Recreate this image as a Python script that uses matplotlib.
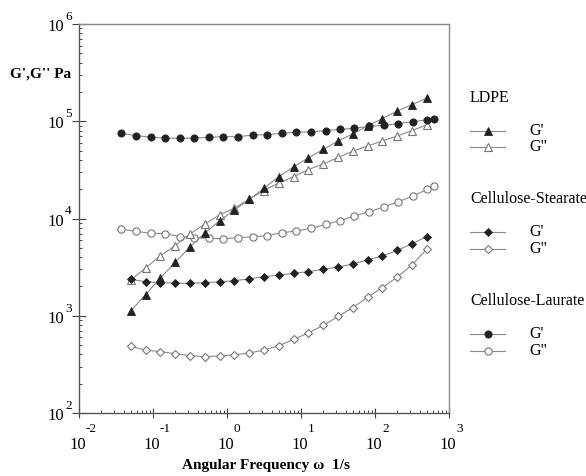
import numpy as np
import matplotlib
matplotlib.use('Agg')
import matplotlib.pyplot as plt
from matplotlib.ticker import LogLocator, NullFormatter

plt.rcParams['font.family'] = ['Liberation Serif', 'DejaVu Serif']

# Частоты (1/s)
freq = [0.05, 0.0794, 0.126, 0.2, 0.316, 0.5, 0.794, 1.26, 2.0, 3.16, 5.0,
        7.94, 12.6, 20.0, 31.6, 50.0, 79.4, 126, 200, 316, 500]
freq_laurate = [0.0373, 0.0589, 0.0931, 0.147, 0.232, 0.361, 0.566, 0.891,
                1.42, 2.22, 3.47, 5.49, 8.56, 13.6, 21.6, 33.7, 52.5, 83.0,
                131, 207, 327, 509, 632]

# LDPE
ldpe_g1 = [1120, 1650, 2450, 3550, 5100, 7050, 9500, 12200, 15700, 20400,
           26900, 33900, 42100, 51300, 62700, 74000, 89400, 106700, 127400,
           147900, 173300]
ldpe_g2 = [2330, 3100, 4130, 5270, 6930, 8780, 10900, 12800, 15800, 19400,
           23200, 26900, 31900, 36300, 42400, 49200, 55600, 62900, 70500,
           80300, 91500]

# Cellulose-Stearate
stear_g1 = [2370, 2240, 2190, 2160, 2160, 2190, 2240, 2290, 2400, 2520,
            2620, 2730, 2840, 3000, 3170, 3400, 3750, 4120, 4690, 5510, 6500]
stear_g2 = [483, 444, 427, 407, 390, 379, 387, 397, 414, 444, 492, 570, 668,
            794, 983, 1210, 1550, 1950, 2500, 3330, 4830]

# Cellulose-Laurate
laur_g1 = [75200, 71000, 68800, 66800, 66800, 66800, 68400, 69400, 69400,
           72200, 72800, 75200, 76900, 78100, 80000, 82600, 84600, 88700,
           90800, 94400, 98900, 103700, 105400]
laur_g2 = [7740, 7380, 7040, 7000, 6500, 6350, 6260, 6200, 6350, 6500, 6650,
           7150, 7430, 7920, 8710, 9490, 10600, 11750, 13130, 14890, 17030,
           19950, 21580]

dark = '#222222'
grey = '#777777'
line_c = '#8a8a8a'

filled = dict(color=line_c, lw=0.8, markerfacecolor=dark, markeredgecolor=dark,
              markeredgewidth=0.6)
hollow = dict(color=line_c, lw=0.8, markerfacecolor='white',
              markeredgecolor=grey, markeredgewidth=0.8)

fig = plt.figure(figsize=(5.86, 4.76), dpi=100)
ax = fig.add_axes([79 / 586, 1 - 413 / 476, 370 / 586, 389 / 476])

ax.plot(freq_laurate, laur_g2, marker='o', ms=5.2, **hollow)
ax.plot(freq, stear_g2, marker='D', ms=4.2, **hollow)
ax.plot(freq, ldpe_g2, marker='^', ms=5.8, **hollow)
ax.plot(freq, stear_g1, marker='D', ms=4.2, **filled)
ax.plot(freq, ldpe_g1, marker='^', ms=5.8, **filled)
ax.plot(freq_laurate, laur_g1, marker='o', ms=5.2, **filled)

ax.set_xscale('log')
ax.set_yscale('log')
ax.set_xlim(1e-2, 1e3)
ax.set_ylim(1e2, 1e6)

for axis in (ax.xaxis, ax.yaxis):
    axis.set_major_locator(LogLocator(base=10, numticks=100))
    axis.set_minor_locator(LogLocator(base=10, subs=np.arange(2, 10), numticks=100))
    axis.set_minor_formatter(NullFormatter())
ax.tick_params(labelbottom=False, labelleft=False)
ax.tick_params(axis='x', which='major', direction='inout', length=6.5, width=0.8, color='#444444')
ax.tick_params(axis='y', which='major', direction='inout', length=9.4, width=0.8, color='#444444')
ax.tick_params(which='minor', direction='in', length=2.4, width=0.7, color='#444444')

for s in ('left', 'bottom'):
    ax.spines[s].set_color('#555555')
    ax.spines[s].set_linewidth(1.0)
for s in ('top', 'right'):
    ax.spines[s].set_color('#8a8a8a')
    ax.spines[s].set_linewidth(1.0)

# подписи осей в виде 10 со степенью
for e in range(-2, 4):
    ax.annotate('10', xy=(10.0 ** e, 0), xycoords=('data', 'axes fraction'),
                xytext=(-1, -32), textcoords='offset pixels',
                ha='center', va='center', fontsize=12)
    ax.annotate(str(e), xy=(10.0 ** e, 0), xycoords=('data', 'axes fraction'),
                xytext=(7, -16), textcoords='offset pixels',
                ha='left', va='center', fontsize=9.5)
for e in range(2, 7):
    ax.annotate('10', xy=(0, 10.0 ** e), xycoords=('axes fraction', 'data'),
                xytext=(-15, -3), textcoords='offset pixels',
                ha='right', va='center', fontsize=12)
    ax.annotate(str(e), xy=(0, 10.0 ** e), xycoords=('axes fraction', 'data'),
                xytext=(-14, 7), textcoords='offset pixels',
                ha='left', va='center', fontsize=9.5)

fig.text(10 / 586, 1 - 74 / 476, "G',G'' Pa", ha='left', va='center',
         fontsize=11, fontweight='bold')
fig.text(266 / 586, 1 - 466 / 476, 'Angular Frequency \u03c9  1/s', ha='center',
         va='center', fontsize=11, fontweight='bold')

# легенда
leg = fig.add_axes([0, 0, 1, 1], facecolor='none')
leg.set_xlim(0, 586)
leg.set_ylim(476, 0)
leg.axis('off')

groups = [('LDPE', 98, '^', 5.8, 131, 147),
          ('Cellulose-Stearate', 199, 'D', 4.2, 232, 249),
          ('Cellulose-Laurate', 301, 'o', 5.2, 334, 351)]
for name, ty, mk, ms, y1, y2 in groups:
    leg.text(470, ty, name, ha='left', va='center', fontsize=11.5)
    leg.plot([470, 487.5, 505], [y1, y1, y1], marker=mk, ms=ms, markevery=[1], **filled)
    leg.plot([470, 487.5, 505], [y2, y2, y2], marker=mk, ms=ms, markevery=[1], **hollow)
    leg.text(529, y1, "G'", ha='left', va='center', fontsize=11.5)
    leg.text(529, y2, 'G"', ha='left', va='center', fontsize=11.5)

fig.savefig('out.png', dpi=100)
